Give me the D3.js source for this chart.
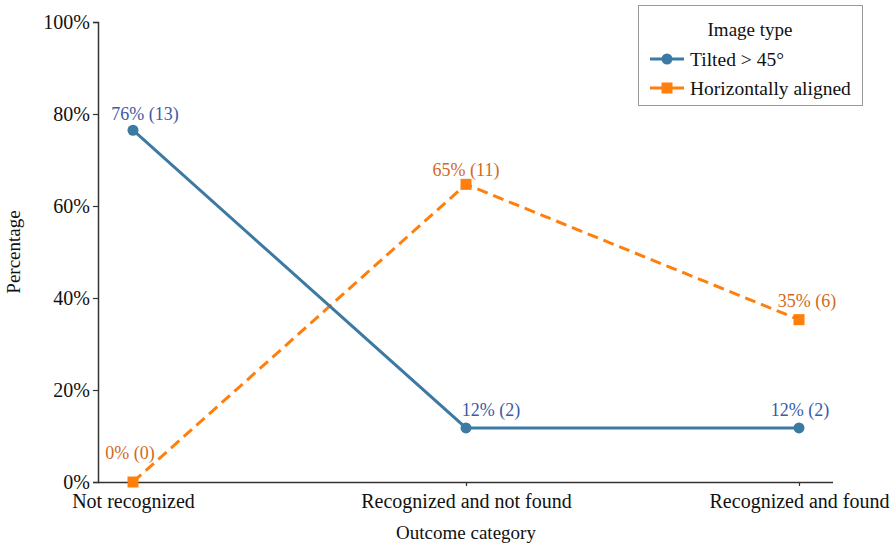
<!DOCTYPE html>
<html><head><meta charset="utf-8">
<script src="https://cdn.jsdelivr.net/npm/d3@7"></script>
<style>body{margin:0;background:#fff}svg{display:block}svg text{font-family:"Liberation Serif","Times New Roman",serif}</style>
</head><body><svg id="c" width="892" height="546"></svg>
<script>
const categories = ["Not recognized", "Recognized and not found", "Recognized and found"];
const tiltedPct = [76.47, 11.76, 11.76];
const tiltedCount = [13, 2, 2];
const horizPct = [0, 64.71, 35.29];
const horizCount = [0, 11, 6];
const seriesNames = ["Tilted > 45°", "Horizontally aligned"];
const yTicks = [0, 20, 40, 60, 80, 100];
// label placement offsets (layout, not data): [dx, dy] from each point
const tiltedLabelOffset = [[12, -10], [25, -12], [1, -12]];
const horizLabelOffset = [[-3, -23], [0, -8], [8, -13]];

const FONT = "Liberation Serif, Times New Roman, serif";
const svg = d3.select("#c");
const x = d3.scalePoint().domain(categories).range([133, 799]);
const y = d3.scaleLinear().domain([0, 100]).range([482, 22]);
const axisColor = "#333";

const yAx = svg.append("g").attr("transform", "translate(98,0)")
  .call(d3.axisLeft(y).tickValues(yTicks).tickFormat(d => d + "%").tickSizeOuter(0).tickSize(5));
const xAx = svg.append("g").attr("transform", "translate(0,482)")
  .call(d3.axisBottom(x).tickSizeOuter(0).tickSize(4));
xAx.select(".domain").attr("d", "M98,0.5H833");
[yAx, xAx].forEach(g => {
  g.attr("font-family", FONT);
  g.select(".domain").attr("stroke", axisColor).attr("stroke-width", 1.5);
  g.selectAll(".tick line").attr("stroke", axisColor).attr("stroke-width", 1.2);
  g.selectAll("text").attr("font-family", FONT).attr("font-size", 20).attr("fill", "#111");
});
yAx.selectAll("text").attr("x", -8).attr("dy", "0.3em");
xAx.selectAll("text").attr("dy", "0.71em").attr("y", 12);

svg.append("text").attr("x", 466).attr("y", 539).attr("text-anchor", "middle")
  .attr("font-family", FONT).attr("font-size", 19).attr("fill", "#111").text("Outcome category");
svg.append("text").attr("transform", "translate(20,252) rotate(-90)").attr("text-anchor", "middle")
  .attr("font-family", FONT).attr("font-size", 19).attr("fill", "#111").text("Percentage");

const blue = "#3d7aa3", orange = "#ff7f0e";
const blueText = "#3a5ba8", orangeText = "#d2691e";

const line = d3.line().x((d, i) => x(categories[i])).y(d => y(d));

svg.append("path").datum(horizPct).attr("d", line).attr("fill", "none")
  .attr("stroke", orange).attr("stroke-width", 3).attr("stroke-dasharray", "11,6");
svg.append("g").selectAll("rect").data(horizPct).join("rect")
  .attr("x", (d, i) => x(categories[i]) - 5.5).attr("y", d => y(d) - 5.5)
  .attr("width", 11).attr("height", 11).attr("fill", orange);

svg.append("path").datum(tiltedPct).attr("d", line).attr("fill", "none")
  .attr("stroke", blue).attr("stroke-width", 3);
svg.append("g").selectAll("circle").data(tiltedPct).join("circle")
  .attr("cx", (d, i) => x(categories[i])).attr("cy", d => y(d)).attr("r", 5.5).attr("fill", blue);

function lab(vals, counts, offs, color) {
  svg.append("g").selectAll("text").data(vals).join("text")
    .attr("x", (d, i) => x(categories[i]) + offs[i][0])
    .attr("y", (d, i) => y(d) + offs[i][1])
    .attr("text-anchor", "middle").attr("font-family", FONT).attr("font-size", 18).attr("fill", color)
    .text((d, i) => Math.round(d) + "% (" + counts[i] + ")");
}
lab(tiltedPct, tiltedCount, tiltedLabelOffset, blueText);
lab(horizPct, horizCount, horizLabelOffset, orangeText);

const lg = svg.append("g").attr("transform", "translate(638,5)");
lg.append("rect").attr("x", 0.5).attr("y", 0.5).attr("width", 224).attr("height", 100)
  .attr("fill", "#fff").attr("stroke", "#999").attr("stroke-width", 1);
lg.append("text").attr("x", 112).attr("y", 31).attr("text-anchor", "middle")
  .attr("font-family", FONT).attr("font-size", 19).attr("fill", "#111").text("Image type");
const items = [{c: blue, m: "circle"}, {c: orange, m: "rect"}];
items.forEach((it, i) => {
  const yy = 54 + i * 29;
  lg.append("line").attr("x1", 12).attr("x2", 46).attr("y1", yy).attr("y2", yy)
    .attr("stroke", it.c).attr("stroke-width", 3);
  if (it.m === "circle") lg.append("circle").attr("cx", 29).attr("cy", yy).attr("r", 5.5).attr("fill", it.c);
  else lg.append("rect").attr("x", 23.5).attr("y", yy - 5.5).attr("width", 11).attr("height", 11).attr("fill", it.c);
  lg.append("text").attr("x", 52).attr("y", yy).attr("dy", "0.35em")
    .attr("font-family", FONT).attr("font-size", 19.5).attr("fill", "#111").text(seriesNames[i]);
});
</script></body></html>
